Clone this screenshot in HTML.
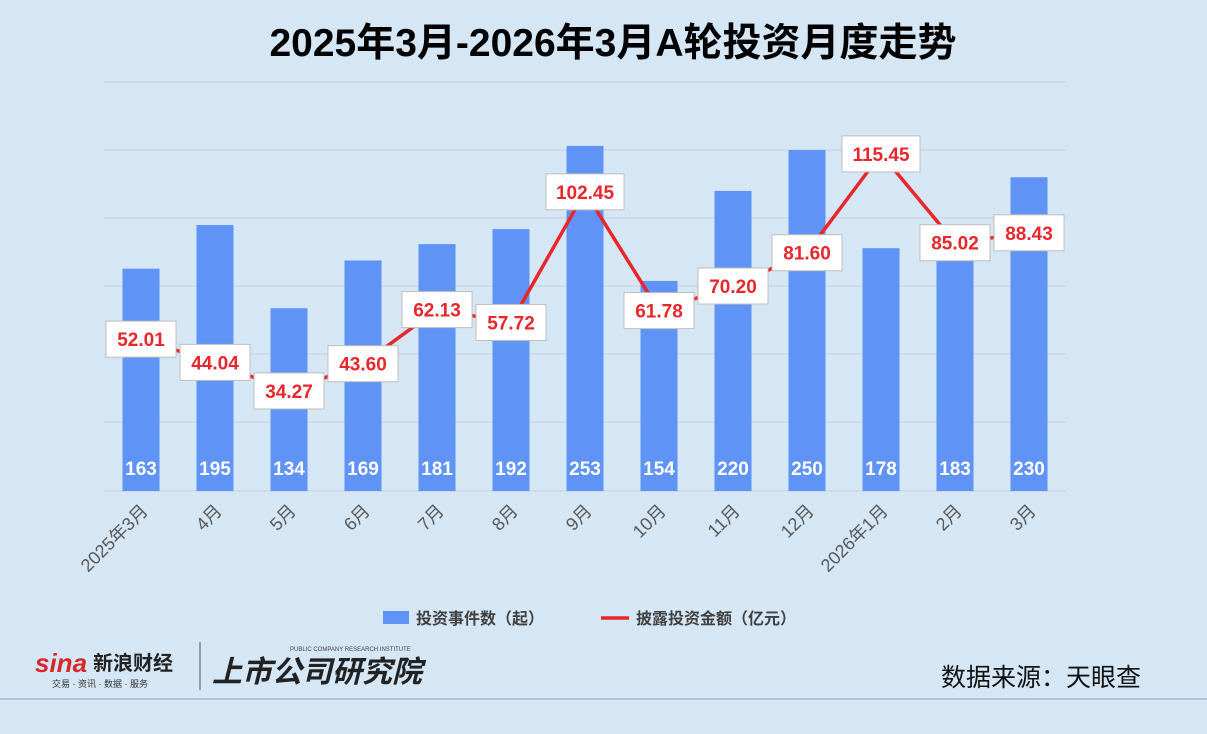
<!DOCTYPE html>
<html><head><meta charset="utf-8"><style>
body{margin:0;width:1207px;height:729px;background:#d5e6f4;overflow:hidden;font-family:"Liberation Sans","Noto Sans CJK SC",sans-serif}
</style></head><body>
<svg width="1207" height="729" xmlns="http://www.w3.org/2000/svg" font-family="Liberation Sans, Noto Sans CJK SC, sans-serif">
<rect width="1207" height="729" fill="#d5e6f4"/>
<text x="613" y="56" text-anchor="middle" font-size="39" font-weight="bold" fill="#000">2025年3月-2026年3月A轮投资月度走势</text>
<g stroke="#c9d3dd" stroke-width="1">
<line x1="104" x2="1066" y1="82" y2="82"/><line x1="104" x2="1066" y1="150" y2="150"/><line x1="104" x2="1066" y1="218" y2="218"/><line x1="104" x2="1066" y1="286" y2="286"/><line x1="104" x2="1066" y1="354" y2="354"/><line x1="104" x2="1066" y1="422" y2="422"/><line x1="104" x2="1066" y1="491" y2="491"/>
</g>
<g id="bars" fill="#5f93f5"></g>
<g id="cnt" fill="#fff" font-size="19" font-weight="bold" text-anchor="middle"></g>
<polyline id="ln" fill="none" stroke="#e8262b" stroke-width="3.5" stroke-linejoin="round"/>
<g id="lbl"></g>
<g id="xl" fill="#595959" font-size="18"></g>
<rect x="383" y="611" width="26" height="13" fill="#5f93f5"/>
<text x="416" y="624" font-size="16" font-weight="bold" fill="#404040">投资事件数（起）</text>
<line x1="601" x2="629" y1="618" y2="618" stroke="#e8262b" stroke-width="3.5"/>
<text x="636" y="624" font-size="16" font-weight="bold" fill="#404040">披露投资金额（亿元）</text>
<text x="35" y="672" font-size="26" font-weight="bold" font-style="italic" fill="#d9262b">sina</text>
<text x="93" y="670" font-size="20" font-weight="bold" fill="#222">新浪财经</text>
<text x="52" y="687" font-size="9" fill="#333">交易 · 资讯 · 数据 · 服务</text>
<line x1="200" x2="200" y1="642" y2="690" stroke="#555"/>
<text x="212" y="682" font-size="30" font-weight="bold" font-style="italic" fill="#222">上市公司研究院</text>
<text x="290" y="651" font-size="6" fill="#444">PUBLIC COMPANY RESEARCH INSTITUTE</text>
<text x="1041" y="686" text-anchor="middle" font-size="25" fill="#111">数据来源：天眼查</text>
<line x1="0" x2="1207" y1="699" y2="699" stroke="#8aa0b4" stroke-width="1"/>
</svg>
<script>
const c=[163,195,134,169,181,192,253,154,220,250,178,183,230];
const v=[52.01,44.04,34.27,43.60,62.13,57.72,102.45,61.78,70.20,81.60,115.45,85.02,88.43];
const m=["2025年3月","4月","5月","6月","7月","8月","9月","10月","11月","12月","2026年1月","2月","3月"];
const ns="http://www.w3.org/2000/svg";
function el(t,a,p,txt){const e=document.createElementNS(ns,t);for(const k in a)e.setAttribute(k,a[k]);if(txt)e.textContent=txt;document.getElementById(p).appendChild(e);return e;}
let pts=[];
c.forEach((n,i)=>{const x=141+74*i;const h=n*1.364;
el("rect",{x:x-18.5,y:491-h,width:37,height:h},"bars");
el("text",{x:x,y:475},"cnt",String(n));
const y=491-v[i]*2.92;pts.push(x+","+y);
el("text",{x:x+8,y:512,"text-anchor":"end",transform:`rotate(-45 ${x+8} 512)`},"xl",m[i]);
});
document.getElementById("ln").setAttribute("points",pts.join(" "));
v.forEach((n,i)=>{const x=141+74*i,y=491-n*2.92;const w=n>=100?78:70;
el("rect",{x:x-w/2,y:y-18,width:w,height:36,fill:"#fff",stroke:"#bfbfbf"},"lbl");
el("text",{x:x,y:y+7,"text-anchor":"middle","font-size":19,"font-weight":"bold",fill:"#e8262b"},"lbl",n.toFixed(2));
});
</script>
</body></html>
